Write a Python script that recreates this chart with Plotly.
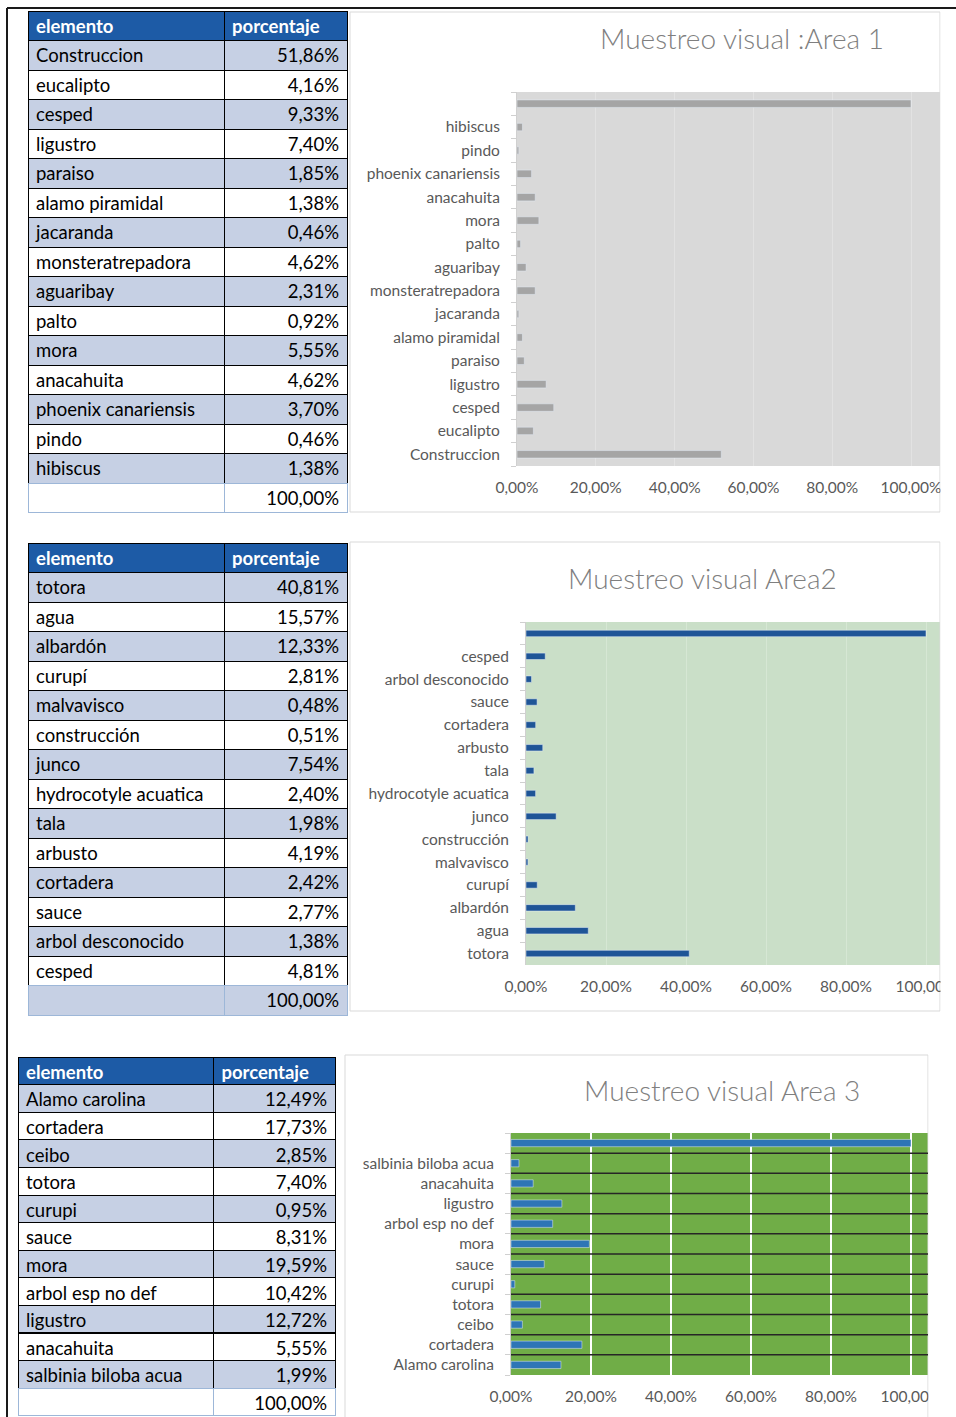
import plotly.graph_objects as go

# ---------------- data ----------------
elem1 = ["Construccion", "eucalipto", "cesped", "ligustro", "paraiso", "alamo piramidal",
         "jacaranda", "monsteratrepadora", "aguaribay", "palto", "mora", "anacahuita",
         "phoenix canariensis", "pindo", "hibiscus"]
pct1 = [51.86, 4.16, 9.33, 7.40, 1.85, 1.38, 0.46, 4.62, 2.31, 0.92, 5.55, 4.62, 3.70, 0.46, 1.38]
total1 = 100.00

elem2 = ["totora", "agua", "albardón", "curupí", "malvavisco", "construcción", "junco",
         "hydrocotyle acuatica", "tala", "arbusto", "cortadera", "sauce", "arbol desconocido", "cesped"]
pct2 = [40.81, 15.57, 12.33, 2.81, 0.48, 0.51, 7.54, 2.40, 1.98, 4.19, 2.42, 2.77, 1.38, 4.81]
total2 = 100.00

elem3 = ["Alamo carolina", "cortadera", "ceibo", "totora", "curupi", "sauce", "mora",
         "arbol esp no def", "ligustro", "anacahuita", "salbinia biloba acua"]
pct3 = [12.49, 17.73, 2.85, 7.40, 0.95, 8.31, 19.59, 10.42, 12.72, 5.55, 1.99]
total3 = 100.00

titles = ["Muestreo visual :Area 1", "Muestreo visual Area2", "Muestreo visual Area 3"]
headers = ["elemento", "porcentaje"]

# ---------------- helpers ----------------
W, H = 956, 1417
FONT = "Lato"
def px(x): return x / W
def py(y): return 1 - y / H
def fmt(v): return f"{v:.2f}".replace(".", ",") + "%"

HDR = "#1D5BA6"
LIGHT = "#C6D0E4"
fig = go.Figure()

def add_table(names, vals, total, x0, x1, y0, y1, rowh, colw):
    n = len(names) + 1
    col1 = names + [""]
    col2 = [fmt(v) for v in vals] + [fmt(total)]
    fills = [LIGHT if i % 2 == 0 else "white" for i in range(n)]
    lines = ["black"] * (n - 1) + ["#9DB7D8"]
    fig.add_trace(go.Table(
        domain=dict(x=[px(x0), px(x1)], y=[py(y1), py(y0)]),
        columnwidth=colw,
        header=dict(values=headers, fill_color=HDR, align=["left", "left"], height=rowh,
                    line=dict(color="black", width=1),
                    font=dict(family=FONT, size=18.5, color="white", weight="bold")),
        cells=dict(values=[col1, col2], fill_color=[fills, fills], align=["left", "right"],
                   height=rowh, line=dict(color=[lines, lines], width=1),
                   font=dict(family=FONT, size=18.5, color="black")),
    ))

add_table(elem1, pct1, total1, 28, 347, 11, 516, 29.5, [196, 123])
add_table(elem2, pct2, total2, 28, 347, 543, 1020, 29.5, [196, 123])
add_table(elem3, pct3, total3, 18, 336, 1057, H, 27.6, [196, 122])

# ---------------- bar charts ----------------
charts = [
    dict(names=elem1, vals=pct1, total=total1, color="#A5A5A5", bg="#D9D9D9", grid="#E2E2E2",
         gw=1, xd=(517, 940), yd=(92, 466), bw=0.32, title_xy=(742, 38)),
    dict(names=elem2, vals=pct2, total=total2, color="#1F5597", bg="#CADFC8", grid="#D6E7D4",
         gw=1, xd=(526, 940), yd=(622, 965), bw=0.28, title_xy=(702, 578)),
    dict(names=elem3, vals=pct3, total=total3, color="#2E75B6", bg="#70AD47", grid="#FFFFFF",
         gw=2, xd=(511, 928), yd=(1133, 1375), bw=0.36, title_xy=(722, 1090)),
]

zero_hundred = [(517, 911), (526, 926), (511, 911)]

for i, c in enumerate(charts, start=1):
    cats = c["names"] + [" "]
    vals = [v / 100 for v in c["vals"]] + [c["total"] / 100]
    xa = "x" if i == 1 else f"x{i}"
    ya = "y" if i == 1 else f"y{i}"
    fig.add_trace(go.Bar(x=vals, y=cats, orientation="h", marker_color=c["color"],
                         width=c["bw"], xaxis=xa, yaxis=ya, showlegend=False,
                         hoverinfo="skip"))
    z, h100 = zero_hundred[i - 1]
    xmax = (c["xd"][1] - z) / (h100 - z)
    key = "" if i == 1 else str(i)
    fig.update_layout({
        f"xaxis{key}": dict(domain=[px(c["xd"][0]), px(c["xd"][1])], anchor=ya,
                            range=[0, xmax], tick0=0, dtick=0.2, tickformat=".2%",
                            showgrid=True, gridcolor=c["grid"], gridwidth=c["gw"],
                            zeroline=False, showline=False, ticks="", automargin=False,
                            ticklabelstandoff=10, ticklabeloverflow="allow",
                            tickfont=dict(family=FONT, size=15.5, color="#595959"),
                            fixedrange=True),
        f"yaxis{key}": dict(domain=[py(c["yd"][1]), py(c["yd"][0])], anchor=xa,
                            type="category", categoryorder="array", categoryarray=cats,
                            range=[-0.5, len(cats) - 0.5], showgrid=False, automargin=False,
                            ticks="outside", tickson="boundaries", ticklen=5,
                            tickcolor="#D0D0D0", showline=True, linecolor="#D0D0D0",
                            ticklabelstandoff=13, ticklabeloverflow="allow",
                            tickfont=dict(family=FONT, size=15.5, color="#595959"),
                            fixedrange=True),
    })
    fig.add_shape(type="rect", xref=f"{xa} domain", yref=f"{ya} domain",
                  x0=0, x1=1, y0=0, y1=1, fillcolor=c["bg"], line_width=0, layer="below")
    fig.add_annotation(x=px(c["title_xy"][0]), y=py(c["title_xy"][1]), xref="paper", yref="paper",
                       text=titles[i - 1], showarrow=False, xanchor="center", yanchor="middle",
                       font=dict(family=FONT, size=28, color="#7F7F7F", weight=300))

# dark separators between categories in chart 3
n3 = len(elem3) + 1
for k in range(n3 - 1):
    fig.add_shape(type="line", xref="x3 domain", yref="y3", x0=0, x1=1,
                  y0=k + 0.5, y1=k + 0.5, line=dict(color="#262626", width=1.5), layer="above")

# chart frames
frame = "#D9D9D9"
for (x0, y0, x1, y1) in [(350, 12, 940, 512), (350, 542, 940, 1011), (345, 1055, 928, 1430)]:
    fig.add_shape(type="rect", xref="paper", yref="paper", x0=px(x0), x1=px(x1),
                  y0=py(y1), y1=py(y0), line=dict(color=frame, width=1),
                  fillcolor="rgba(0,0,0,0)", layer="below")

# white mask for cropped right edge
fig.add_shape(type="rect", xref="paper", yref="paper", x0=px(940.5), x1=1, y0=py(1050), y1=py(11),
              fillcolor="white", line_width=0, layer="above")
fig.add_shape(type="rect", xref="paper", yref="paper", x0=px(928.5), x1=1, y0=0, y1=py(1050),
              fillcolor="white", line_width=0, layer="above")

# black outer border
fig.add_shape(type="line", xref="paper", yref="paper", x0=px(7), x1=1, y0=py(8), y1=py(8),
              line=dict(color="#1A1A1A", width=2), layer="above")
fig.add_shape(type="line", xref="paper", yref="paper", x0=px(7), x1=px(7), y0=0, y1=py(8),
              line=dict(color="#1A1A1A", width=2), layer="above")

fig.update_layout(width=W, height=H, margin=dict(l=0, r=0, t=0, b=0, autoexpand=False),
                  autosize=False,
                  paper_bgcolor="white", plot_bgcolor="rgba(0,0,0,0)",
                  separators=",.", showlegend=False, font=dict(family=FONT))

fig.write_html("out.html",
               config={"responsive": False, "displayModeBar": False},
               post_script="document.body.style.margin='0px';document.body.style.overflow='hidden';")
